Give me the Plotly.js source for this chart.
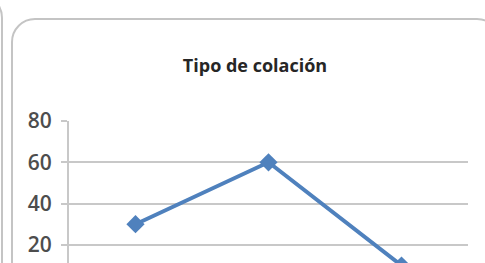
<!DOCTYPE html>
<html>
<head>
<meta charset="utf-8">
<script src="https://cdn.plot.ly/plotly-3.0.1.min.js"></script>
<style>
  html, body { margin: 0; padding: 0; width: 485px; height: 263px; overflow: hidden; background: #ffffff; }
  #prevbox { position: absolute; left: -300px; top: -8px; width: 303px; height: 400px;
             border: 2px solid #c4c4c4; border-radius: 26px; box-sizing: border-box; }
  #box { position: absolute; left: 11px; top: 18px; width: 490px; height: 400px;
         border: 2px solid #c4c4c4; border-radius: 24px; box-sizing: border-box; }
  #chart { position: absolute; left: 0; top: 0; width: 485px; height: 263px; }
</style>
</head>
<body>
<div id="prevbox"></div>
<div id="box"></div>
<div id="chart"></div>
<script>
// Data (third point lies below the visible crop)
const categories = ["Categoría 1", "Categoría 2", "Categoría 3"];
const values = [30, 60, 10];
const yTicks = [20, 40, 60, 80];
const chartTitle = "Tipo de colación";

const trace = {
  type: "scatter",
  mode: "lines+markers",
  x: categories,
  y: values,
  line: { color: "#4F81BD", width: 4 },
  marker: { symbol: "diamond", size: 14, color: "#4F81BD" },
  cliponaxis: true,
  hoverinfo: "none"
};

const layout = {
  width: 485,
  height: 263,
  margin: { l: 69, r: 17, t: 121, b: 0, pad: 0 },
  paper_bgcolor: "rgba(0,0,0,0)",
  plot_bgcolor: "rgba(0,0,0,0)",
  showlegend: false,
  title: {
    text: chartTitle,
    font: { family: "Open Sans", size: 18, color: "#262626", weight: "bold" },
    xref: "container", x: 255 / 485, xanchor: "center",
    yref: "container", y: 1 - 66 / 263, yanchor: "middle"
  },
  xaxis: {
    type: "category",
    range: [-0.5, 2.5],
    showticklabels: false,
    showgrid: false,
    zeroline: false,
    ticks: ""
  },
  yaxis: {
    range: [11.2, 80],
    tickvals: yTicks,
    ticktext: yTicks.map(String),
    showgrid: true,
    gridcolor: "#c8c8c8",
    gridwidth: 2,
    zeroline: false,
    showline: true,
    linecolor: "#c8c8c8",
    linewidth: 2,
    ticks: "outside",
    ticklen: 6,
    tickwidth: 2,
    tickcolor: "#c8c8c8",
    ticklabelstandoff: 5,
    tickfont: { family: "Open Sans", size: 21, color: "#4d4d4d", weight: 600 }
  }
};

Plotly.newPlot("chart", [trace], layout, { staticPlot: true, displayModeBar: false });
</script>
</body>
</html>
